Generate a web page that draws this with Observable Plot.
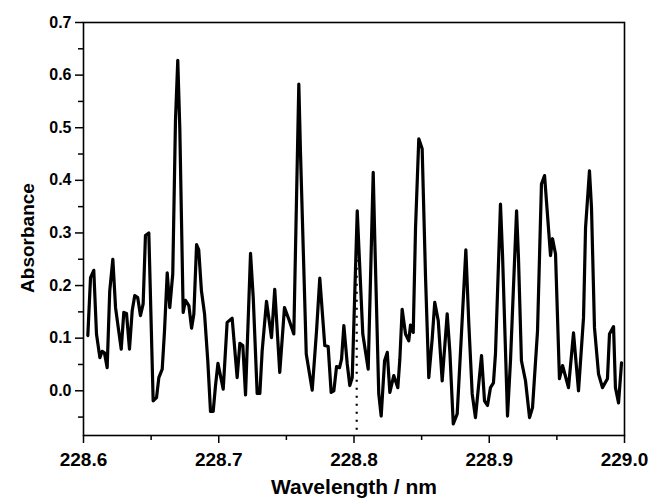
<!DOCTYPE html>
<html>
<head>
<meta charset="utf-8">
<script src="https://cdn.jsdelivr.net/npm/d3@7"></script>
<script src="https://cdn.jsdelivr.net/npm/@observablehq/plot@0.6"></script>
<style>
  html, body { margin: 0; padding: 0; background: #fff; }
  #chart { width: 649px; height: 499px; }
</style>
</head>
<body>
<div id="chart"></div>
<script>
const wavelength = [
  228.6032, 228.6052, 228.6076, 228.6096, 228.6121, 228.6138, 228.6155, 228.6175, 228.6194, 228.6217,
  228.6237, 228.6257, 228.6279, 228.6298, 228.6318, 228.6340, 228.6360, 228.6379, 228.6401, 228.6421,
  228.6441, 228.6458, 228.6483, 228.6515, 228.6540, 228.6557, 228.6582, 228.6599, 228.6619, 228.6638,
  228.6660, 228.6680, 228.6697, 228.6712, 228.6737, 228.6754, 228.6779, 228.6799, 228.6816, 228.6836,
  228.6852, 228.6872, 228.6895, 228.6919, 228.6939, 228.6959, 228.6976, 228.6994, 228.7033, 228.7062,
  228.7099, 228.7136, 228.7156, 228.7178, 228.7198, 228.7235, 228.7255, 228.7284, 228.7304, 228.7321,
  228.7353, 228.7390, 228.7414, 228.7451, 228.7486, 228.7518, 228.7555, 228.7592, 228.7604, 228.7647,
  228.7691, 228.7723, 228.7747, 228.7784, 228.7809, 228.7831, 228.7851, 228.7871, 228.7893, 228.7908,
  228.7925, 228.7950, 228.7969, 228.7987, 228.8024, 228.8036, 228.8065, 228.8105, 228.8142, 228.8154,
  228.8183, 228.8201, 228.8226, 228.8246, 228.8265, 228.8294, 228.8324, 228.8339, 228.8356, 228.8381,
  228.8405, 228.8418, 228.8438, 228.8455, 228.8479, 228.8504, 228.8529, 228.8553, 228.8578, 228.8597,
  228.8623, 228.8652, 228.8689, 228.8709, 228.8734, 228.8763, 228.8793, 228.8827, 228.8849, 228.8874,
  228.8898, 228.8943, 228.8965, 228.8987, 228.9009, 228.9031, 228.9046, 228.9083, 228.9098, 228.9135,
  228.9157, 228.9202, 228.9216, 228.9238, 228.9268, 228.9298, 228.9320, 228.9357, 228.9386, 228.9409,
  228.9453, 228.9468, 228.9490, 228.9519, 228.9542, 228.9586, 228.9623, 228.9660, 228.9697, 228.9712,
  228.9741, 228.9756, 228.9778, 228.9808, 228.9837, 228.9874, 228.9889, 228.9919, 228.9933, 228.9956,
  228.9978
];
const absorbance = [
  0.105, 0.215, 0.229, 0.108, 0.063, 0.075, 0.072, 0.044, 0.190, 0.250,
  0.158, 0.120, 0.079, 0.149, 0.147, 0.079, 0.152, 0.181, 0.177, 0.143,
  0.165, 0.295, 0.300, -0.019, -0.013, 0.025, 0.041, 0.114, 0.224, 0.158,
  0.222, 0.513, 0.628, 0.500, 0.149, 0.172, 0.162, 0.119, 0.146, 0.278,
  0.268, 0.190, 0.146, 0.057, -0.039, -0.039, 0.010, 0.052, 0.003, 0.130,
  0.138, 0.025, 0.090, 0.086, -0.008, 0.261, 0.177, -0.005, -0.005, 0.076,
  0.170, 0.101, 0.193, 0.035, 0.158, 0.136, 0.108, 0.583, 0.456, 0.070,
  0.001, 0.114, 0.214, 0.086, 0.084, -0.003, 0.000, 0.046, 0.044, 0.060,
  0.124, 0.051, 0.010, 0.025, 0.342, 0.272, 0.108, 0.041, 0.415, 0.285,
  -0.006, -0.048, 0.057, 0.073, -0.003, 0.029, 0.006, 0.060, 0.155, 0.108,
  0.095, 0.125, 0.111, 0.310, 0.479, 0.460, 0.215, 0.025, 0.098, 0.168,
  0.133, 0.019, 0.146, 0.073, -0.063, -0.044, 0.101, 0.268, 0.127, -0.006,
  -0.051, 0.067, -0.019, -0.028, 0.006, 0.015, 0.070, 0.355, 0.260, -0.048,
  0.057, 0.342, 0.253, 0.057, 0.019, -0.051, -0.032, 0.114, 0.393, 0.409,
  0.257, 0.289, 0.260, 0.023, 0.048, 0.006, 0.110, 0.000, 0.139, 0.310,
  0.418, 0.348, 0.120, 0.032, 0.006, 0.023, 0.108, 0.122, 0.006, -0.023,
  0.053
];
const xMajorTicks = [228.6, 228.7, 228.8, 228.9, 229.0];
const xMinorTicks = [228.65, 228.75, 228.85, 228.95];
const yMajorTicks = [0.0, 0.1, 0.2, 0.3, 0.4, 0.5, 0.6, 0.7];
const yMinorTicks = [-0.05, 0.05, 0.15, 0.25, 0.35, 0.45, 0.55, 0.65];
const markerWavelength = [228.802];
const markerRange = [-0.075, 0.25];
const xTitle = "Wavelength / nm";
const yTitle = "Absorbance";

const data = wavelength.map((w, i) => ({w, a: absorbance[i]}));
const fmt = d3.format(".1f");

const chart = Plot.plot({
  width: 649,
  height: 499,
  marginLeft: 83,
  marginRight: 25,
  marginTop: 22,
  marginBottom: 64,
  style: {
    fontFamily: "'Liberation Sans', Arial, sans-serif",
    fontSize: "16px",
    fontWeight: "bold",
    color: "#000",
    background: "#fff"
  },
  x: {domain: [228.6, 229.0]},
  y: {domain: [-0.085, 0.7]},
  marks: [
    Plot.frame({stroke: "#000", strokeWidth: 1.6}),
    Plot.axisX(xMinorTicks, {tickSize: 5, tickFormat: () => "", label: null, strokeWidth: 1.5}),
    Plot.axisX(xMajorTicks, {tickSize: 8, tickFormat: () => "", strokeWidth: 1.5,
      label: xTitle, labelAnchor: "center", labelArrow: "none", labelOffset: 58}),
    Plot.axisY(yMinorTicks, {tickSize: 5, tickFormat: () => "", label: null, strokeWidth: 1.5}),
    Plot.axisY(yMajorTicks, {tickSize: 8, tickFormat: () => "", strokeWidth: 1.5,
      label: yTitle, labelAnchor: "center", labelArrow: "none", labelOffset: 63}),
    Plot.text(xMajorTicks, {x: d => d, text: d => fmt(d), frameAnchor: "bottom", dy: 24,
      lineAnchor: "middle", textAnchor: "middle", fontSize: 19, fontWeight: "bold", fill: "#000"}),
    Plot.text(yMajorTicks, {y: d => d, text: d => fmt(d), frameAnchor: "left", dx: -12,
      lineAnchor: "middle", textAnchor: "end", fontSize: 16, fontWeight: "bold", fill: "#000"}),
    Plot.ruleX(markerWavelength, {y1: markerRange[0], y2: markerRange[1], stroke: "#000",
      strokeWidth: 2.2, strokeDasharray: "2,6"}),
    Plot.line(data, {x: "w", y: "a", stroke: "#000", strokeWidth: 3.2, strokeLinejoin: "round"})
  ]
});
document.getElementById("chart").appendChild(chart);
// enlarge axis titles
chart.querySelectorAll("g[aria-label='x-axis label'] text").forEach(t => {
  t.setAttribute("font-size", "21px");
  t.style.fontSize = "21px";
});
chart.querySelectorAll("g[aria-label='y-axis label'] text").forEach(t => {
  t.setAttribute("font-size", "19px");
  t.style.fontSize = "19px";
  t.setAttribute("dx", "-9");
});
</script>
</body>
</html>
